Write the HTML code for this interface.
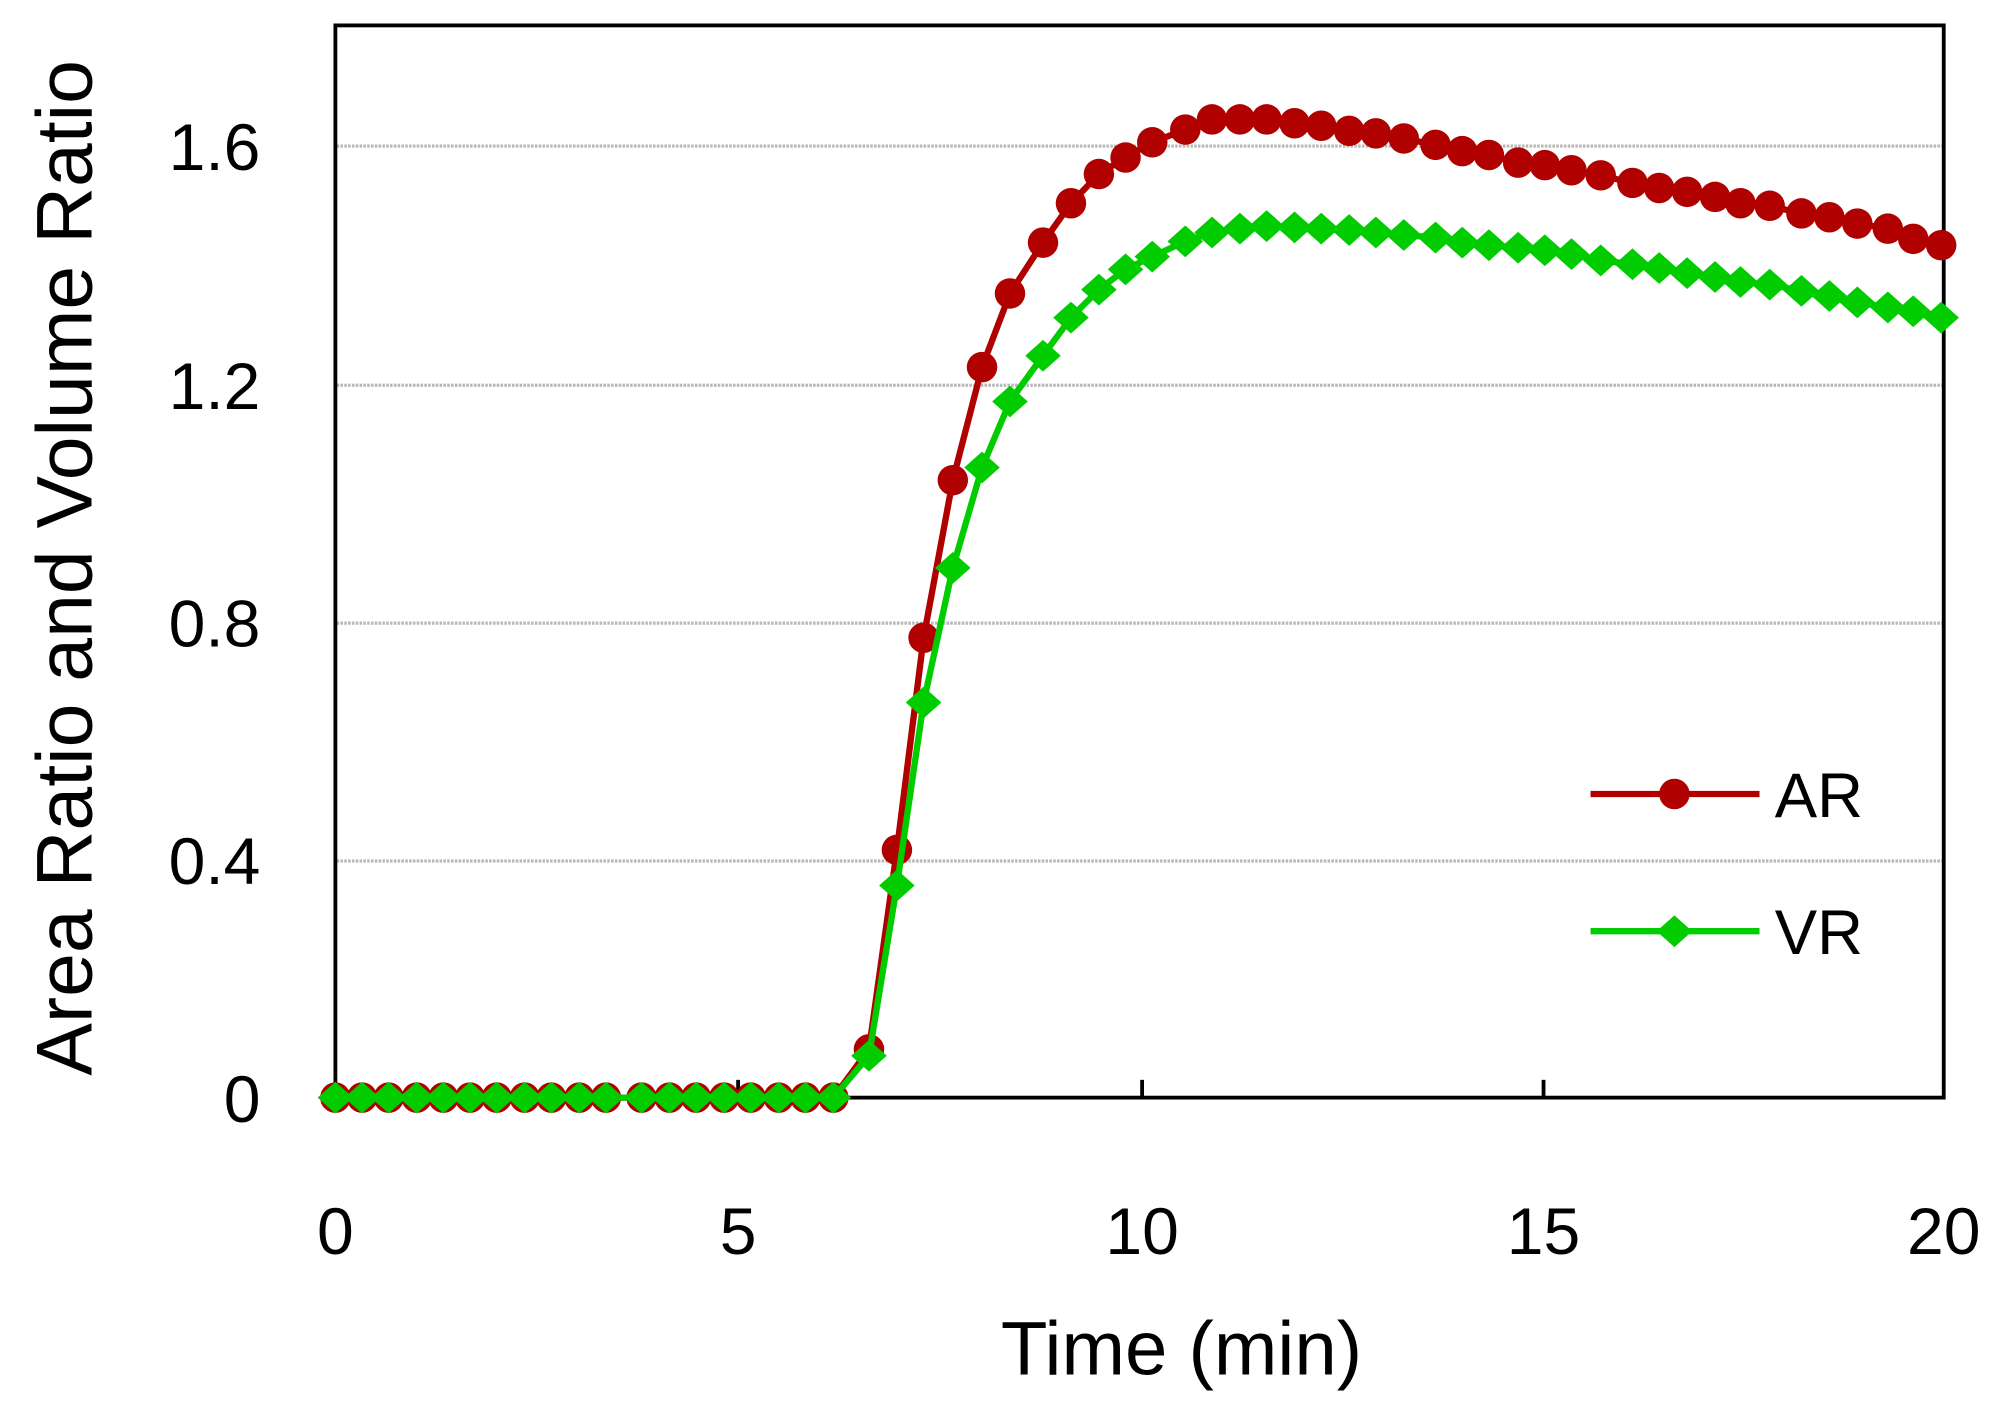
<!DOCTYPE html>
<html><head><meta charset="utf-8"><style>html,body{margin:0;padding:0;background:#fff}svg{display:block}</style></head>
<body>
<svg width="1992" height="1401" viewBox="0 0 1568 1102.8" preserveAspectRatio="none" xmlns="http://www.w3.org/2000/svg" font-family="'Liberation Sans', sans-serif">
<defs>
<circle id="c" r="12" fill="#b00000"/>
<path id="d" d="M-14,0 L0,-12.5 L14,0 L0,12.5 Z" fill="#00cc00"/>
</defs>
<rect width="1568" height="1102.8" fill="#fff"/>
<g stroke="#b8b8b8" stroke-width="2.5" stroke-dasharray="2,1">
<line x1="265" y1="677.75" x2="1530" y2="677.75"/>
<line x1="265" y1="490.5" x2="1530" y2="490.5"/>
<line x1="265" y1="303.25" x2="1530" y2="303.25"/>
<line x1="265" y1="115" x2="1530" y2="115"/>
</g>
<rect x="264" y="20" width="1266" height="844" fill="none" stroke="#000" stroke-width="3"/>
<g stroke="#000" stroke-width="3">
<line x1="581" y1="864" x2="581" y2="850"/>
<line x1="899" y1="864" x2="899" y2="850"/>
<line x1="1215" y1="864" x2="1215" y2="850"/>
</g>
<g font-size="52" fill="#000" text-anchor="end">
<text x="205" y="883">0</text>
<text x="205" y="696">0.4</text>
<text x="205" y="509">0.8</text>
<text x="205" y="322">1.2</text>
<text x="205" y="134">1.6</text>
</g>
<g font-size="52" fill="#000" text-anchor="middle">
<text x="264" y="987">0</text>
<text x="581" y="987">5</text>
<text x="899" y="987">10</text>
<text x="1215" y="987">15</text>
<text x="1530" y="987">20</text>
</g>
<text x="930" y="1082" font-size="60" text-anchor="middle">Time (min)</text>
<text transform="translate(72,447) rotate(-90)" font-size="62" text-anchor="middle">Area Ratio and Volume Ratio</text>

<polyline fill="none" stroke="#b00000" stroke-width="5" stroke-linejoin="round" points="264,864 656,864 684,826 706,669 727,502 750,378 773,289 795,231 821,191 843,160 865,137 886,124 907,112 933,102 954,94 976,94 997,94 1019,97 1040,99 1062,103 1083,105 1105,109 1130,114 1151,119 1172,122 1195,128 1216,130 1237,134 1260,138 1285,144 1306,148 1328,151 1350,155 1370,160 1393,162 1418,168 1440,171 1462,176 1486,180 1506,188 1528,193"/>
<g>
<use href="#c" x="264" y="864"/><use href="#c" x="285" y="864"/><use href="#c" x="306" y="864"/><use href="#c" x="328" y="864"/><use href="#c" x="349" y="864"/><use href="#c" x="370" y="864"/><use href="#c" x="391" y="864"/><use href="#c" x="413" y="864"/><use href="#c" x="434" y="864"/><use href="#c" x="456" y="864"/><use href="#c" x="477" y="864"/><use href="#c" x="505" y="864"/><use href="#c" x="527" y="864"/><use href="#c" x="548" y="864"/><use href="#c" x="570" y="864"/><use href="#c" x="591" y="864"/><use href="#c" x="613" y="864"/><use href="#c" x="634" y="864"/><use href="#c" x="656" y="864"/>
<use href="#c" x="684" y="826"/><use href="#c" x="706" y="669"/><use href="#c" x="727" y="502"/><use href="#c" x="750" y="378"/><use href="#c" x="773" y="289"/><use href="#c" x="795" y="231"/><use href="#c" x="821" y="191"/><use href="#c" x="843" y="160"/><use href="#c" x="865" y="137"/><use href="#c" x="886" y="124"/><use href="#c" x="907" y="112"/><use href="#c" x="933" y="102"/><use href="#c" x="954" y="94"/><use href="#c" x="976" y="94"/><use href="#c" x="997" y="94"/><use href="#c" x="1019" y="97"/><use href="#c" x="1040" y="99"/><use href="#c" x="1062" y="103"/><use href="#c" x="1083" y="105"/><use href="#c" x="1105" y="109"/><use href="#c" x="1130" y="114"/><use href="#c" x="1151" y="119"/><use href="#c" x="1172" y="122"/><use href="#c" x="1195" y="128"/><use href="#c" x="1216" y="130"/><use href="#c" x="1237" y="134"/><use href="#c" x="1260" y="138"/><use href="#c" x="1285" y="144"/><use href="#c" x="1306" y="148"/><use href="#c" x="1328" y="151"/><use href="#c" x="1350" y="155"/><use href="#c" x="1370" y="160"/><use href="#c" x="1393" y="162"/><use href="#c" x="1418" y="168"/><use href="#c" x="1440" y="171"/><use href="#c" x="1462" y="176"/><use href="#c" x="1486" y="180"/><use href="#c" x="1506" y="188"/><use href="#c" x="1528" y="193"/>
</g>

<polyline fill="none" stroke="#00cc00" stroke-width="5" stroke-linejoin="round" points="264,864 656,864 684,831 706,697 727,553 750,447 773,368 795,316 821,280 843,250 865,228 886,212 907,202 933,190 954,183 976,180 997,178 1019,179 1040,180 1062,181 1083,183 1105,185 1130,187 1151,191 1172,193 1195,195 1216,197 1237,200 1260,205 1285,208 1306,211 1328,215 1350,218 1370,222 1393,224 1418,229 1440,233 1462,238 1486,242 1506,245 1528,250"/>
<g>
<use href="#d" x="264" y="864"/><use href="#d" x="285" y="864"/><use href="#d" x="306" y="864"/><use href="#d" x="328" y="864"/><use href="#d" x="349" y="864"/><use href="#d" x="370" y="864"/><use href="#d" x="391" y="864"/><use href="#d" x="413" y="864"/><use href="#d" x="434" y="864"/><use href="#d" x="456" y="864"/><use href="#d" x="477" y="864"/><use href="#d" x="505" y="864"/><use href="#d" x="527" y="864"/><use href="#d" x="548" y="864"/><use href="#d" x="570" y="864"/><use href="#d" x="591" y="864"/><use href="#d" x="613" y="864"/><use href="#d" x="634" y="864"/><use href="#d" x="656" y="864"/>
<use href="#d" x="684" y="831"/><use href="#d" x="706" y="697"/><use href="#d" x="727" y="553"/><use href="#d" x="750" y="447"/><use href="#d" x="773" y="368"/><use href="#d" x="795" y="316"/><use href="#d" x="821" y="280"/><use href="#d" x="843" y="250"/><use href="#d" x="865" y="228"/><use href="#d" x="886" y="212"/><use href="#d" x="907" y="202"/><use href="#d" x="933" y="190"/><use href="#d" x="954" y="183"/><use href="#d" x="976" y="180"/><use href="#d" x="997" y="178"/><use href="#d" x="1019" y="179"/><use href="#d" x="1040" y="180"/><use href="#d" x="1062" y="181"/><use href="#d" x="1083" y="183"/><use href="#d" x="1105" y="185"/><use href="#d" x="1130" y="187"/><use href="#d" x="1151" y="191"/><use href="#d" x="1172" y="193"/><use href="#d" x="1195" y="195"/><use href="#d" x="1216" y="197"/><use href="#d" x="1237" y="200"/><use href="#d" x="1260" y="205"/><use href="#d" x="1285" y="208"/><use href="#d" x="1306" y="211"/><use href="#d" x="1328" y="215"/><use href="#d" x="1350" y="218"/><use href="#d" x="1370" y="222"/><use href="#d" x="1393" y="224"/><use href="#d" x="1418" y="229"/><use href="#d" x="1440" y="233"/><use href="#d" x="1462" y="238"/><use href="#d" x="1486" y="242"/><use href="#d" x="1506" y="245"/><use href="#d" x="1528" y="250"/>
</g>

<line x1="1252" y1="625" x2="1385" y2="625" stroke="#b00000" stroke-width="5"/>
<use href="#c" x="1318" y="625"/>
<text x="1397" y="643" font-size="50">AR</text>
<line x1="1252" y1="733" x2="1385" y2="733" stroke="#00cc00" stroke-width="5"/>
<use href="#d" x="1318" y="733"/>
<text x="1397" y="751" font-size="50">VR</text>
</svg>
</body></html>
